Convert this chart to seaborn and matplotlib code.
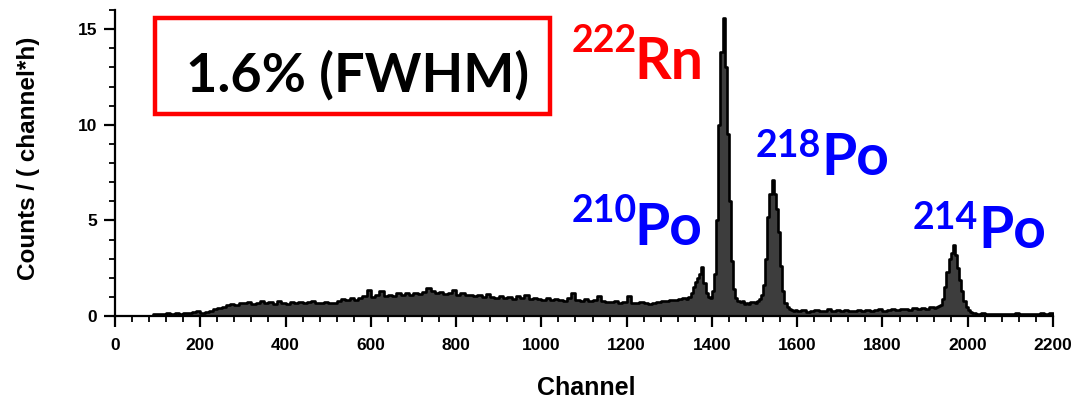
import numpy as np
import pandas as pd
import matplotlib
matplotlib.use("Agg")
import matplotlib.pyplot as plt
import matplotlib.patches as mpatches
from matplotlib.ticker import MultipleLocator
import seaborn as sns

# ---------------- data ----------------
# background region, 10-channel bins starting at channel 80
bg_low_start = 80
bg_low_counts = [
    0.0, 0.08, 0.12, 0.10, 0.14, 0.12, 0.15, 0.13, 0.18, 0.14, 0.20, 0.25,        # 80-200
    0.17, 0.20, 0.28, 0.35, 0.42, 0.48, 0.55, 0.62, 0.58, 0.70,                  # 200-300
    0.66, 0.74, 0.62, 0.70, 0.78, 0.68, 0.72, 0.65, 0.76, 0.70,                  # 300-400
    0.62, 0.72, 0.68, 0.75, 0.66, 0.72, 0.80, 0.70, 0.66, 0.74,                  # 400-500
    0.70, 0.68, 0.80, 0.88, 0.82, 0.92, 0.85, 0.95, 1.05, 1.35,                  # 500-600
    1.00, 1.08, 1.30, 1.05, 1.12, 1.05, 1.18, 1.10, 1.22, 1.12,                  # 600-700
    1.20, 1.15, 1.28, 1.45, 1.30, 1.18, 1.25, 1.15, 1.22, 1.35,                  # 700-800
    1.12, 1.20, 1.08, 1.12, 1.02, 1.10, 0.98, 1.15, 1.00, 0.95,                  # 800-900
    1.05, 0.92, 0.98, 0.90, 1.02, 0.95, 1.12, 0.90, 0.96, 0.88,                  # 900-1000
    0.85, 0.94, 0.82, 0.90, 0.86, 0.80, 0.92, 1.20, 0.85, 0.80,                  # 1000-1100
    0.88, 0.76, 0.82, 1.05, 0.80, 0.75, 0.72, 0.80, 0.68, 0.74,                  # 1100-1200
    1.05, 0.70, 0.66, 0.72, 0.68, 0.64, 0.70, 0.72, 0.78, 0.80,                  # 1200-1300
    0.85, 0.82, 0.88, 0.92,                                                      # 1300-1340
]
# peak region 210Po / 222Rn / 218Po, 5-channel bins starting at 1340
peaks_a_start = 1340
peaks_a_counts = [
    0.90, 1.00, 1.20, 1.50, 1.80, 2.00, 2.20, 2.55, 1.70, 1.20, 1.00, 0.95,      # 1340-1400
    1.30, 2.20, 5.00, 10.0, 13.8, 15.6, 13.0, 9.50, 6.00, 2.90, 1.40, 0.95,      # 1400-1460
    0.80, 0.75, 0.80, 0.65, 0.70, 0.62, 0.72, 0.75, 0.70, 0.80, 0.90, 1.10,      # 1460-1520
    1.60, 3.00, 5.20, 6.40, 7.10, 6.40, 5.60, 4.40, 2.60, 1.30, 0.70, 0.45,      # 1520-1580
    0.35, 0.30, 0.28, 0.30,                                                      # 1580-1600
]
# quiet region, 10-channel bins starting at 1600
bg_mid_start = 1600
bg_mid_counts = [
    0.25, 0.30, 0.22, 0.26, 0.30, 0.24, 0.28, 0.38, 0.26, 0.30,
    0.25, 0.32, 0.28, 0.24, 0.30, 0.27, 0.33, 0.26, 0.30, 0.35,
    0.28, 0.32, 0.36, 0.30, 0.34, 0.38, 0.33, 0.40, 0.36, 0.42,
    0.38, 0.45,
]
# 214Po peak, 5-channel bins starting at 1920
peak_b_start = 1920
peak_b_counts = [
    0.42, 0.45, 0.50, 0.60, 0.90, 1.50, 2.30, 3.00, 3.30, 3.70,
    3.20, 2.50, 1.90, 1.30, 0.80, 0.45, 0.30, 0.22, 0.16, 0.15,
]
# tail, 10-channel bins starting at 2020
tail_start = 2020
tail_counts = [
    0.12, 0.14, 0.10, 0.13, 0.11, 0.10, 0.13, 0.12, 0.10, 0.14,
    0.11, 0.12, 0.10, 0.13, 0.12, 0.15, 0.12, 0.16,
]

x_ticks = [0, 200, 400, 600, 800, 1000, 1200, 1400, 1600, 1800, 2000, 2200]
y_ticks = [0, 5, 10, 15]
box_text = "1.6% (FWHM)"
labels = [("222", "Rn", "#ff0000"), ("210", "Po", "#0000ff"),
          ("218", "Po", "#0000ff"), ("214", "Po", "#0000ff")]

# ---------------- assemble bins ----------------
segments = [(bg_low_start, 10, bg_low_counts), (peaks_a_start, 5, peaks_a_counts),
            (bg_mid_start, 10, bg_mid_counts), (peak_b_start, 5, peak_b_counts),
            (tail_start, 10, tail_counts)]
lefts, widths, vals = [], [], []
for start, w, cnts in segments:
    for i, c in enumerate(cnts):
        lefts.append(start + i * w)
        widths.append(w)
        vals.append(c)
lefts = np.array(lefts, float)
widths = np.array(widths, float)
edges = np.append(lefts, lefts[-1] + widths[-1]).tolist()
df = pd.DataFrame({"channel": lefts + widths / 2, "counts": vals})

# ---------------- figure ----------------
W, H = 1075, 405
sns.set_style("ticks")
plt.rcParams["font.family"] = ["Liberation Sans", "DejaVu Sans"]
plt.rcParams["text.color"] = "black"
plt.rcParams["axes.labelcolor"] = "black"
plt.rcParams["xtick.color"] = "black"
plt.rcParams["ytick.color"] = "black"
fig = plt.figure(figsize=(W / 100, H / 100), dpi=100)
ax = fig.add_axes([115 / W, 1 - 316 / H, (1053 - 115) / W, (316 - 10) / H])

sns.histplot(data=df, x="channel", weights="counts", bins=edges, element="step",
             fill=True, facecolor="#3d3d3d", edgecolor="black", linewidth=1.9,
             alpha=1, ax=ax)

ax.set_xlim(0, 2200)
ax.set_ylim(0, 16)
ax.set_xticks(x_ticks)
ax.set_yticks(y_ticks)
ax.xaxis.set_minor_locator(MultipleLocator(40))
ax.yaxis.set_minor_locator(MultipleLocator(1))
sns.despine(ax=ax)
for s in ("left", "bottom"):
    ax.spines[s].set_linewidth(1.6)
    ax.spines[s].set_color("black")
ax.tick_params(which="major", direction="out", length=8, width=1.6,
               colors="black", labelcolor="black")
ax.tick_params(which="minor", direction="out", length=4, width=1.3, colors="black")
ax.tick_params(axis="x", which="major", pad=8)
ax.tick_params(axis="y", which="major", pad=5)
for lab in ax.get_xticklabels() + ax.get_yticklabels():
    lab.set_fontsize(12.5)
    lab.set_fontweight("bold")
    lab.set_color("black")

ax.set_xlabel("Channel", fontsize=18, fontweight="bold", color="black")
ax.set_ylabel("Counts / ( channel*h)", fontsize=17.5, fontweight="bold", color="black")
ax.xaxis.set_label_coords((586 - 115) / (1053 - 115), (316 - 376) / 306)
ax.yaxis.set_label_coords((40 - 115) / (1053 - 115), (316 - 158) / 306)
ax.grid(False)

# ---------------- annotations ----------------
def fx(px):
    return px / W

def fy(py):
    return 1 - py / H

rect = mpatches.Rectangle((fx(155), fy(114)), (550 - 155) / W, (114 - 18) / H,
                          transform=fig.transFigure, fill=False,
                          edgecolor="#ff0000", linewidth=3.2, zorder=5)
fig.add_artist(rect)
fig.text(fx(358), fy(92), box_text, ha="center", va="baseline",
         fontsize=39, fontweight="bold", family=["Lato", "DejaVu Sans"], color="black")

# (superscript left, superscript baseline, base left, base baseline)
label_pos = [(572, 52, 634, 79), (572, 222, 634, 245),
             (756, 157, 821, 175), (913, 229, 978, 248)]
for (sup, base, col), (sx, sy, bx, by) in zip(labels, label_pos):
    fig.text(fx(sx), fy(sy), sup, ha="left", va="baseline", fontsize=27,
             fontweight="bold", family=["Lato", "DejaVu Sans"], color=col)
    fig.text(fx(bx), fy(by), base, ha="left", va="baseline", fontsize=41,
             fontweight="bold", family=["Lato", "DejaVu Sans"], color=col)

fig.savefig("out.png", dpi=100)
